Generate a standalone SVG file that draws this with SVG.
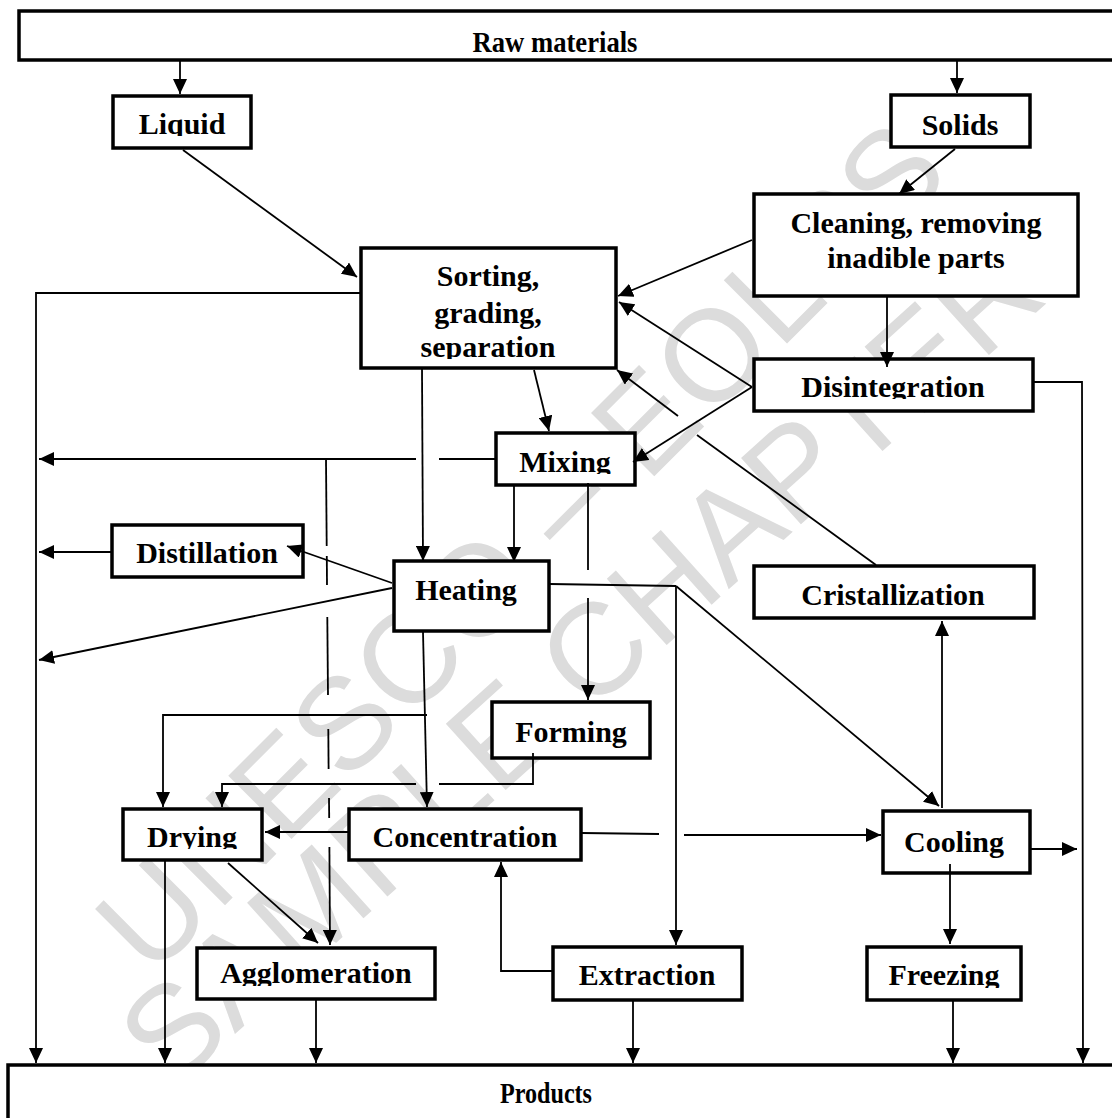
<svg xmlns="http://www.w3.org/2000/svg" width="1112" height="1118" viewBox="0 0 1112 1118">
<style>
.n rect{fill:#fff;stroke:#000;stroke-width:3.5}
.t{font-family:"Liberation Serif","Times New Roman",serif;font-weight:bold;font-size:30px;text-anchor:middle;fill:#000}
.c line,.c polyline{stroke:#000;stroke-width:1.8;fill:none}
.a{marker-end:url(#ah)}
.wm{font-family:"Liberation Sans",Arial,sans-serif;font-size:130px;fill:#dcdcdc;text-anchor:middle}
</style>
<defs>
<marker id="ah" viewBox="0 0 15 14" refX="15" refY="7" markerWidth="15" markerHeight="14" markerUnits="userSpaceOnUse" orient="auto"><path d="M0,0 L15,7 L0,14 z" fill="#000"/></marker>
<clipPath id="cLiquid"><rect x="113" y="96" width="138" height="40"/></clipPath>
<clipPath id="cSort"><rect x="361" y="248" width="255" height="111"/></clipPath>
<clipPath id="cDis"><rect x="754" y="359" width="279" height="40"/></clipPath>
<clipPath id="cMix"><rect x="496" y="433" width="139" height="41"/></clipPath>
<clipPath id="cDry"><rect x="123" y="809" width="139" height="40"/></clipPath>
<clipPath id="cAgg"><rect x="197" y="948" width="238" height="38"/></clipPath>
<clipPath id="cFrz"><rect x="867" y="947" width="154" height="41"/></clipPath>
</defs>
<rect x="0" y="0" width="1112" height="1118" fill="#fff"/>
<g id="watermark">
<text class="wm" transform="translate(520,546) rotate(-45)" dy="0.35em">UNESCO – EOLSS</text>
<text class="wm" transform="translate(580,662) rotate(-42)" dy="0.35em">SAMPLE CHAPTER</text>
</g>
<g id="raw" class="n"><rect x="19" y="11" width="1110" height="49"/><text class="t" x="555" y="52" textLength="165" lengthAdjust="spacingAndGlyphs">Raw materials</text></g>
<g id="products" class="n"><rect x="8" y="1065" width="1120" height="70"/><text class="t" x="546" y="1103" textLength="92" lengthAdjust="spacingAndGlyphs">Products</text></g>
<g id="liquid" class="n"><rect x="113" y="96" width="138" height="52"/><text class="t" x="182" y="134" clip-path="url(#cLiquid)">Liquid</text></g>
<g id="solids" class="n"><rect x="891" y="95" width="139" height="52"/><text class="t" x="960" y="135">Solids</text></g>
<g id="sorting" class="n"><rect x="361" y="248" width="255" height="120"/><text class="t" x="488" clip-path="url(#cSort)"><tspan x="488" y="286">Sorting,</tspan><tspan x="488" y="323">grading,</tspan><tspan x="488" y="357">separation</tspan></text></g>
<g id="cleaning" class="n"><rect x="754" y="194" width="324" height="102"/><text class="t"><tspan x="916" y="233">Cleaning, removing</tspan><tspan x="916" y="268">inadible parts</tspan></text></g>
<g id="disintegration" class="n"><rect x="754" y="359" width="279" height="52"/><text class="t" x="893" y="397" clip-path="url(#cDis)">Disintegration</text></g>
<g id="mixing" class="n"><rect x="496" y="433" width="139" height="52"/><text class="t" x="565" y="472" clip-path="url(#cMix)">Mixing</text></g>
<g id="distillation" class="n"><rect x="112" y="525" width="191" height="52"/><text class="t" x="207" y="563">Distillation</text></g>
<g id="heating" class="n"><rect x="394" y="561" width="155" height="70"/><text class="t" x="466" y="600">Heating</text></g>
<g id="cristallization" class="n"><rect x="754" y="566" width="280" height="52"/><text class="t" x="893" y="605">Cristallization</text></g>
<g id="forming" class="n"><rect x="492" y="702" width="158" height="56"/><text class="t" x="571" y="742">Forming</text></g>
<g id="drying" class="n"><rect x="123" y="809" width="139" height="51"/><text class="t" x="192" y="847" clip-path="url(#cDry)">Drying</text></g>
<g id="concentration" class="n"><rect x="349" y="809" width="232" height="51"/><text class="t" x="465" y="847">Concentration</text></g>
<g id="cooling" class="n"><rect x="883" y="811" width="147" height="62"/><text class="t" x="954" y="852">Cooling</text></g>
<g id="agglomeration" class="n"><rect x="197" y="948" width="238" height="51"/><text class="t" x="316" y="983" clip-path="url(#cAgg)">Agglomeration</text></g>
<g id="extraction" class="n"><rect x="553" y="947" width="189" height="53"/><text class="t" x="647" y="985">Extraction</text></g>
<g id="freezing" class="n"><rect x="867" y="947" width="154" height="53"/><text class="t" x="944" y="985" clip-path="url(#cFrz)">Freezing</text></g>
<g id="connectors" class="c">
<line class="a" x1="180" y1="61" x2="180" y2="94"/>
<line class="a" x1="957" y1="61" x2="957" y2="93"/>
<line class="a" x1="183" y1="150" x2="357" y2="277"/>
<line class="a" x1="955" y1="149" x2="899" y2="194"/>
<line class="a" x1="752" y1="240" x2="618" y2="296"/>
<line class="a" x1="752" y1="387" x2="619" y2="302"/>
<line class="a" x1="887" y1="297" x2="887" y2="367"/>
<polyline class="a" points="1034,382 1082,382 1083,1063"/>
<polyline class="a" points="360,293 36,293 36,1063"/>
<line class="a" x1="422" y1="369" x2="423" y2="561"/>
<line class="a" x1="534" y1="370" x2="549" y2="431"/>
<line class="a" x1="752" y1="387" x2="633" y2="462"/>
<line x1="495" y1="459" x2="439" y2="459"/>
<line class="a" x1="416" y1="459" x2="39" y2="459"/>
<line x1="326" y1="459" x2="326.7" y2="546"/>
<line x1="326.8" y1="556" x2="327" y2="585"/>
<line x1="327.3" y1="617" x2="328" y2="695"/>
<line x1="328.3" y1="729" x2="328.6" y2="769"/>
<line x1="329" y1="798" x2="329.2" y2="818"/>
<line class="a" x1="329.4" y1="847" x2="330" y2="945"/>
<line class="a" x1="514" y1="486" x2="514" y2="562"/>
<line x1="588" y1="483" x2="588" y2="570"/>
<line class="a" x1="588" y1="598" x2="588" y2="700"/>
<line class="a" x1="111" y1="552" x2="39" y2="552"/>
<line class="a" x1="392" y1="583" x2="287" y2="546"/>
<line class="a" x1="392" y1="588" x2="39" y2="660"/>
<line x1="550" y1="584" x2="676" y2="586"/>
<line class="a" x1="676" y1="586" x2="676" y2="945"/>
<line class="a" x1="676" y1="586" x2="939" y2="806"/>
<line x1="876" y1="565" x2="697" y2="435"/>
<line class="a" x1="678" y1="416" x2="617" y2="370"/>
<line class="a" x1="942" y1="808" x2="942" y2="621"/>
<line class="a" x1="423" y1="632" x2="427" y2="807"/>
<polyline class="a" points="427,715 163,715 163,807"/>
<polyline points="533,753 533,784 439,784"/>
<polyline class="a" points="416,784 222,784 222,807"/>
<line class="a" x1="348" y1="832" x2="265" y2="832"/>
<line x1="582" y1="833" x2="659" y2="834"/>
<line class="a" x1="684" y1="835" x2="881" y2="835"/>
<line class="a" x1="1031" y1="849" x2="1077" y2="849"/>
<line class="a" x1="950" y1="864" x2="950" y2="944"/>
<polyline class="a" points="552,971 501,971 501,862"/>
<line class="a" x1="165" y1="861" x2="165" y2="1063"/>
<line class="a" x1="228" y1="863" x2="318" y2="943"/>
<line class="a" x1="316" y1="999" x2="316" y2="1063"/>
<line class="a" x1="633" y1="999" x2="633" y2="1063"/>
<line class="a" x1="953" y1="1001" x2="953" y2="1063"/>
</g>
</svg>
